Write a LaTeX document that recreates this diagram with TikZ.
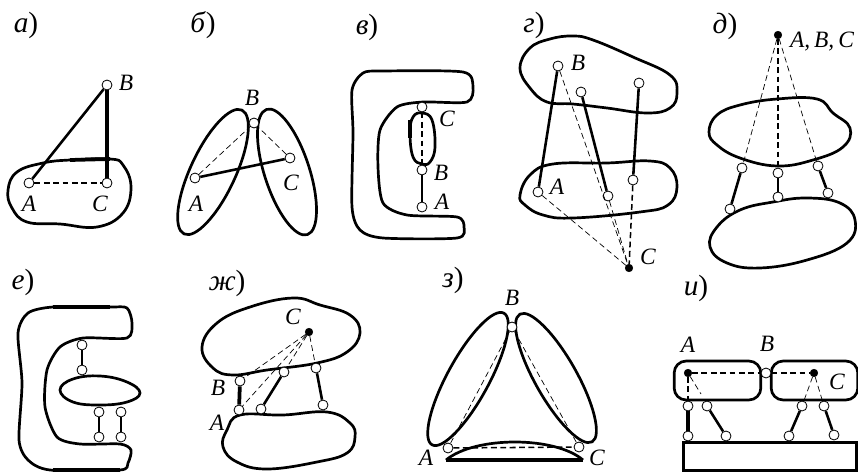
\documentclass[tikz,border=0pt]{standalone}
\usepackage{fontspec}
\setmainfont{Liberation Serif}
\usetikzlibrary{shapes.geometric}
\begin{document}
\begin{tikzpicture}[
  x=0.03cm, y=-0.03cm,
  blob/.style={line width=2.3pt, line join=round},
  oval/.style={draw, ellipse, line width=2.3pt, inner sep=0pt},
  hinge/.style={circle, draw, fill=white, line width=0.7pt, inner sep=0pt, minimum size=0.3cm},
  fixed/.style={circle, draw, fill=black, inner sep=0pt, minimum size=0.23cm},
  tag/.style={font=\fontsize{20}{24}\selectfont\itshape, inner sep=0pt},
  part/.style={font=\fontsize{25}{28}\selectfont, inner sep=0pt},
  bar/.style={line width=1.4pt},
  hbar/.style={line width=2.2pt},
  fat/.style={line width=3.2pt},
  thindash/.style={dash pattern=on 5pt off 3pt, line width=0.6pt},
  bdash/.style={dash pattern=on 5pt off 3pt, line width=1.3pt},
  block/.style={draw, line width=2.3pt, rounded corners=0.36cm, inner sep=0pt,
                minimum width=2.6cm, minimum height=1.17cm},
]
\useasboundingbox (0,0) rectangle (858,472);
% panel a
\node[part] (pa) at (26,25) {\textit{а})};
\draw[blob] plot[smooth cycle, tension=0.7] coordinates {(8,190) (17,172) (43,163) (70,160) (110,159)
  (123,165) (131,187) (123,213) (97,227) (60,224) (27,222) (12,208)};
\draw[fat] plot[smooth, tension=0.7] coordinates {(70,160) (90,159.5) (110,159)};
\node[hinge] (aA) at (29,183) {};
\node[hinge] (aC) at (107,183) {};
\node[hinge] (aB) at (107,85) {};
\draw[hbar] (aA) -- (aB);
\draw[fat] (aB) -- (aC);
\draw[bdash] (aA) -- (aC);
\node[tag] (taA) at (29,204) {A};
\node[tag] (taC) at (100,204) {C};
\node[tag] (taB) at (126,83) {B};
% panel b
\node[part] (pb) at (203,25) {\textit{б})};
\node[oval, minimum width=4.1cm, minimum height=1.35cm, rotate=65] (bl) at (213,172) {};
\node[oval, minimum width=3.95cm, minimum height=1.35cm, rotate=-72] (br) at (287,172) {};
\node[hinge] (bA) at (195,178) {};
\node[hinge] (bC) at (290,158) {};
\node[hinge] (bB) at (254,123) {};
\draw[hbar] (bA) -- (bC);
\draw[thindash] (bA) -- (bB);
\draw[thindash] (bC) -- (bB);
\node[tag] (tbB) at (252,98) {B};
\node[tag] (tbA) at (196,204) {A};
\node[tag] (tbC) at (291,183) {C};
% panel v
\node[part] (pv) at (367,27) {\textit{в})};
\draw[blob] plot[smooth cycle, tension=0.45] coordinates {(463,72) (473,87) (467,102) (423,102) (397,107)
  (380,130) (378,167) (383,203) (407,215) (457,217) (464,227) (457,238) (383,238) (360,230)
  (352,207) (353,133) (352,90) (363,73) (383,71)};
\draw[blob] plot[smooth cycle, tension=0.7] coordinates {(422,113) (432,120) (435,147) (430,162) (422,164)
  (413,157) (410,133) (413,117)};
\draw[fat] plot[smooth, tension=0.7] coordinates {(410,120) (410,138)};
\node[hinge] (vC) at (422,107) {};
\node[hinge] (vB) at (422,170) {};
\node[hinge] (vA) at (422,207) {};
\draw[bar] (vB) -- (vA);
\draw[bdash] (vC) -- (vB);
\node[tag] (tvC) at (447,119) {C};
\node[tag] (tvB) at (441,173) {B};
\node[tag] (tvA) at (442,202) {A};
% panel g
\node[part] (pg) at (534,25) {\textit{г})};
\draw[blob] plot[smooth cycle, tension=0.7] coordinates {(573,36) (593,40) (633,57) (670,75) (677,93)
  (670,108) (647,113) (607,108) (573,104) (547,102) (530,88) (520,68) (530,48) (550,39)};
\draw[blob] plot[smooth cycle, tension=0.7] coordinates {(553,164) (607,163) (650,161) (670,168) (677,187)
  (668,205) (640,212) (573,218) (543,215) (525,205) (520,195) (530,175)};
\node[hinge] (gB) at (558,66) {};
\node[hinge] (gA) at (538,192) {};
\node[hinge] (gM) at (581,92) {};
\node[hinge] (gN) at (608,196) {};
\node[hinge] (gP) at (639,83) {};
\node[hinge] (gQ) at (633,180) {};
\node[fixed] (gC) at (629,268) {};
\draw[hbar] (gB) -- (gA);
\draw[hbar] (gM) -- (gN);
\draw[hbar] (gP) -- (gQ);
\draw[thindash] (gA) -- (gC);
\draw[thindash] (gB) -- (gC);
\draw[thindash] (gN) -- (gC);
\draw[bdash] (gQ) -- (gC);
\node[tag] (tgB) at (578,63) {B};
\node[tag] (tgA) at (557,187) {A};
\node[tag] (tgC) at (648,257) {C};
% panel d
\node[part] (pd) at (725,26) {\textit{д})};
\draw[blob] plot[smooth cycle, tension=0.7] coordinates {(777,99) (817,99) (833,113) (850,128) (843,147)
  (813,160) (777,166) (740,158) (717,145) (709,132) (717,115) (740,105)};
\draw[blob] plot[smooth cycle, tension=0.7] coordinates {(807,198) (840,203) (855,220) (847,243) (807,260)
  (760,268) (727,263) (710,247) (717,227) (740,210) (773,202)};
\node[fixed] (dO) at (778,35) {};
\node[hinge] (dA) at (742,168) {};
\node[hinge] (dB) at (730,209) {};
\node[hinge] (dE) at (778,173) {};
\node[hinge] (dF) at (778,197) {};
\node[hinge] (dG) at (818,166) {};
\node[hinge] (dH) at (828,193) {};
\draw[hbar] (dA) -- (dB);
\draw[hbar] (dE) -- (dF);
\draw[hbar] (dG) -- (dH);
\draw[thindash] (dO) -- (dA);
\draw[bdash] (dO) -- (dE);
\draw[thindash] (dO) -- (dG);
\node[tag] (tdO) at (822,42) {A,\,B,\,C};
% panel e
\node[part] (pe) at (23,282) {\textit{е})};
\draw[blob] plot[smooth cycle, tension=0.45] coordinates {(110,307) (127,308) (132,323) (127,338) (83,338)
  (60,347) (47,370) (45,407) (57,437) (80,444) (120,444) (131,450) (128,463) (120,470) (50,470)
  (28,460) (19,440) (22,383) (18,333) (28,313) (53,307)};
\draw[fat] plot[smooth, tension=0.7] coordinates {(53,307) (110,307)};
\draw[fat] plot[smooth, tension=0.7] coordinates {(53,470) (120,470)};
\draw[blob] plot[smooth cycle, tension=0.7] coordinates {(100,376) (127,382) (140,393) (127,402) (100,405)
  (73,402) (60,390) (73,379)};
\node[hinge] (eA) at (82,345) {};
\node[hinge] (eB) at (82,370) {};
\node[hinge] (eC) at (99,412) {};
\node[hinge] (eD) at (99,437) {};
\node[hinge] (eF) at (121,412) {};
\node[hinge] (eG) at (121,437) {};
\draw[bar] (eA) -- (eB);
\draw[bar] (eC) -- (eD);
\draw[bar] (eF) -- (eG);
% panel zh
\node[part] (pzh) at (227,283) {\textit{ж})};
\draw[blob] plot[smooth cycle, tension=0.7] coordinates {(293,298) (320,305) (350,315) (360,333) (347,352)
  (317,363) (267,370) (233,375) (213,368) (202,347) (217,323) (250,307)};
\draw[blob] plot[smooth cycle, tension=0.7] coordinates {(240,415) (283,415) (327,412) (350,423) (355,437)
  (347,453) (317,462) (267,469) (237,462) (223,447) (227,430)};
\node[hinge] (zB) at (240,381) {};
\node[hinge] (zA) at (239,410) {};
\node[hinge] (zD) at (261,409) {};
\node[hinge] (zE) at (284,372) {};
\node[hinge] (zF) at (316,368) {};
\node[hinge] (zG) at (323,405) {};
\node[fixed] (zC) at (309,332) {};
\draw[fat] (zB) -- (zA);
\draw[hbar] (zD) -- (zE);
\draw[hbar] (zF) -- (zG);
\draw[thindash] (zC) -- (zA);
\draw[thindash] (zC) -- (zB);
\draw[thindash] (zC) -- (zE);
\draw[thindash] (zC) -- (zF);
\node[tag] (tzC) at (293,317) {C};
\node[tag] (tzB) at (218,388) {B};
\node[tag] (tzA) at (217,423) {A};
% panel z
\node[part] (pz) at (453,280) {\textit{з})};
\node[oval, minimum width=4.5cm, minimum height=1.25cm, rotate=61.4] (zl) at (468,379) {};
\node[oval, minimum width=4.4cm, minimum height=1.25cm, rotate=-60.5] (zr) at (556,378) {};
\draw[blob] (446,460) .. controls (475,436) and (555,436) .. (583,460);
\draw[fat] (446,460) -- (583,460);
\node[hinge] (wB) at (512,327) {};
\node[hinge] (wA) at (448,448) {};
\node[hinge] (wC) at (579,447) {};
\draw[thindash] (wA) -- (wB);
\draw[thindash] (wC) -- (wB);
\draw[bdash] (wA) -- (wC);
\node[tag] (twB) at (512,298) {B};
\node[tag] (twA) at (426,458) {A};
\node[tag] (twC) at (597,458) {C};
% panel i
\node[part] (pi) at (696,288) {\textit{и})};
\node[block] (il) at (717.5,380.5) {};
\node[block] (ir) at (814.5,380.5) {};
\node[draw, line width=2.3pt, inner sep=0pt, minimum width=5.2cm, minimum height=0.86cm] (ig) at (770,456.5) {};
\node[fixed] (iA) at (688,373) {};
\node[fixed] (iC) at (814,373) {};
\node[hinge] (iB) at (766,373) {};
\node[hinge] (iD) at (688,406) {};
\node[hinge] (iE) at (688,436) {};
\node[hinge] (iF) at (707,406) {};
\node[hinge] (iG) at (726,436) {};
\node[hinge] (iH) at (802,406) {};
\node[hinge] (iJ) at (789,436) {};
\node[hinge] (iK) at (824,406) {};
\node[hinge] (iL) at (834,435) {};
\coordinate (iT) at (701,394);
\draw[fat] (iD) -- (iE);
\draw[hbar] (iF) -- (iG);
\draw[hbar] (iH) -- (iJ);
\draw[hbar] (iK) -- (iL);
\draw[bdash] (iA) -- (iB);
\draw[bdash] (iB) -- (iC);
\draw[bdash] (iA) -- (iD);
\draw[thindash] (iA) -- (iT);
\draw[thindash] (iC) -- (iH);
\draw[thindash] (iC) -- (iK);
\node[tag] (tiA) at (688,345) {A};
\node[tag] (tiB) at (767,344) {B};
\node[tag] (tiC) at (837,382) {C};
\end{tikzpicture}
\end{document}
